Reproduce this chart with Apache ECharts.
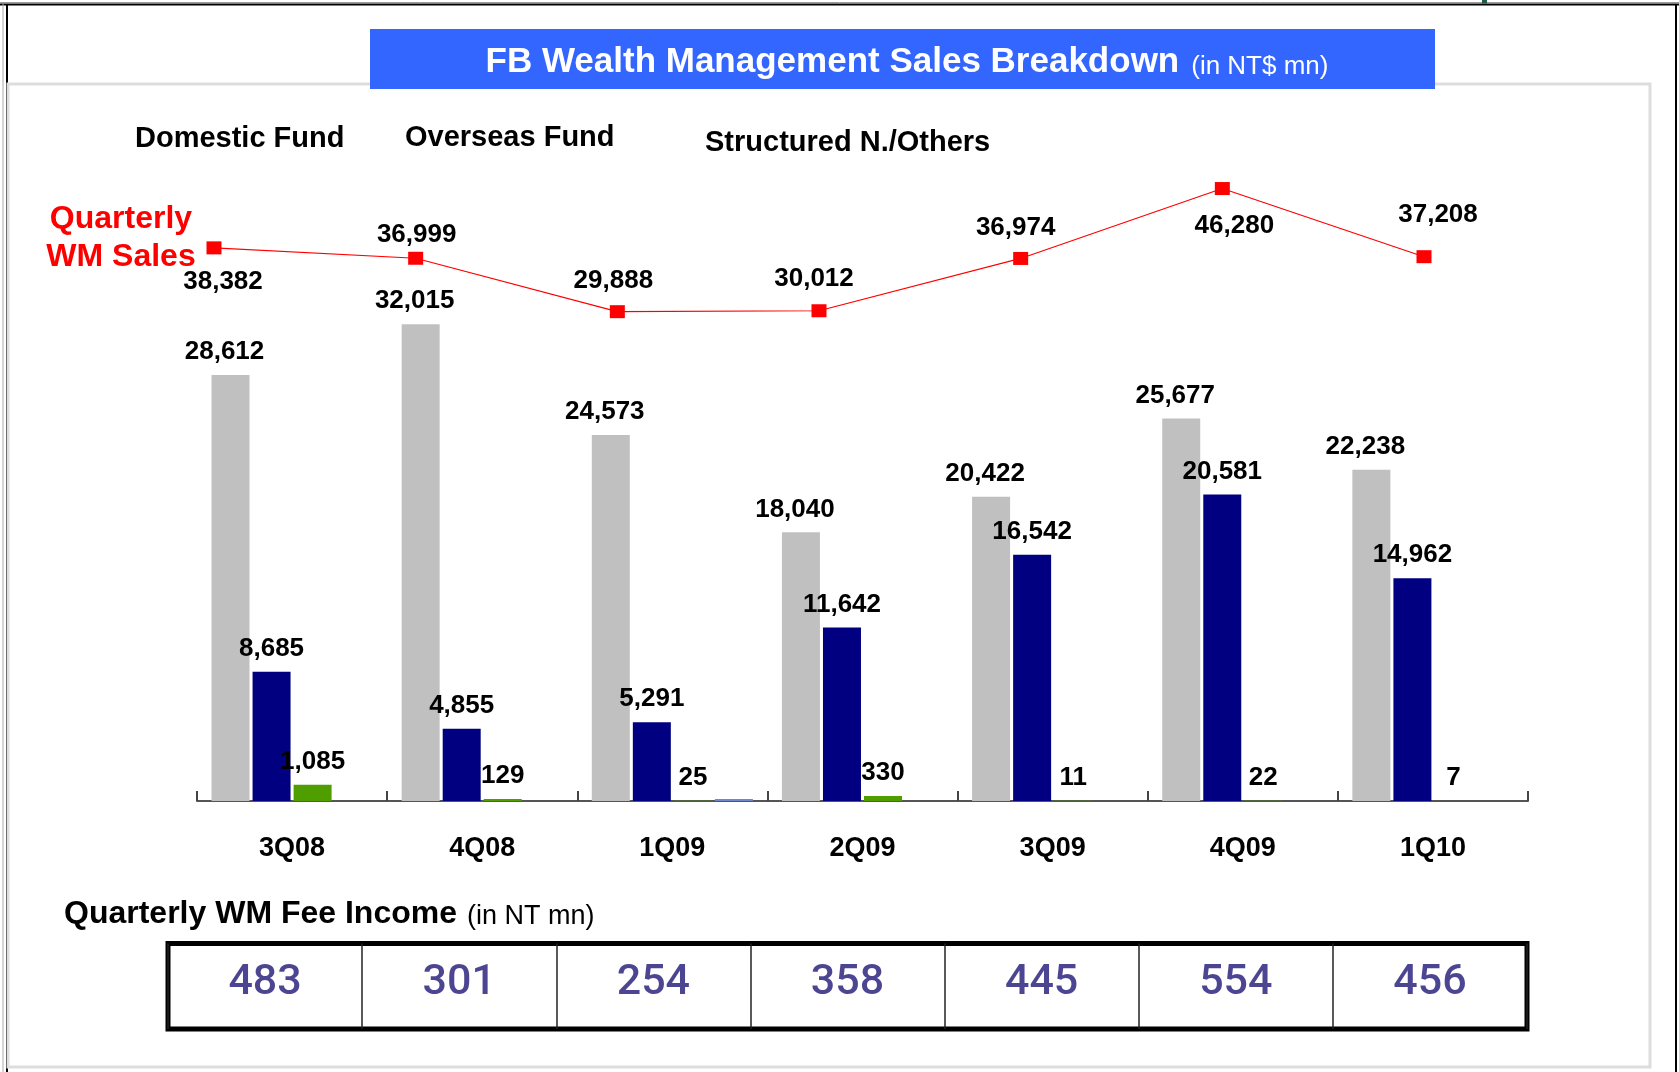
<!doctype html>
<html>
<head>
<meta charset="UTF-8">
<title>FB Wealth Management Sales Breakdown</title>
<script src="https://cdn.jsdelivr.net/npm/echarts@6/dist/echarts.min.js"></script>
<style>
  html, body { margin: 0; padding: 0; background: #fff; }
  #main { width: 1679px; height: 1072px; }
</style>
</head>
<body>
<div id="main"></div>
<script type="text/javascript">
// quarters
var categories = ['3Q08', '4Q08', '1Q09', '2Q09', '3Q09', '4Q09', '1Q10'];
// bar series (NT$ mn)
var domesticFund = [28612, 32015, 24573, 18040, 20422, 25677, 22238];
var overseasFund = [8685, 4855, 5291, 11642, 16542, 20581, 14962];
var structuredOthers = [1085, 129, 25, 330, 11, 22, 7];
// faint unlabeled bar that shows up in the 4th slot of 1Q09
var unlabeledBar = [0, 0, 130, 0, 0, 0, 0];
// line
var wmSales = [38382, 36999, 29888, 30012, 36974, 46280, 37208];
// table row
var feeIncome = [483, 301, 254, 358, 445, 554, 456];
var seriesNames = ['Domestic Fund', 'Overseas Fund', 'Structured N./Others'];

var FONT = '"Liberation Sans", Arial, sans-serif';

// where each line label sits relative to its marker (px)
var lineLabelOffset = [[9, 34], [1, -23], [-4, -31], [-5, -32], [-5, -31], [12, 37], [14, -42]];

function fmt(v) {
    return v.toLocaleString('en-US');
}

var chart = echarts.init(document.getElementById('main'));

function barSeries(name, data, color, withLabel, labelDx) {
    return {
        name: name,
        type: 'bar',
        xAxisIndex: 0,
        yAxisIndex: 0,
        barWidth: 38,
        barGap: '8%',
        data: data,
        itemStyle: { color: color },
        label: withLabel ? {
            show: true,
            position: 'top',
            distance: 10,
            offset: [labelDx || 0, 0],
            color: '#000',
            fontFamily: FONT,
            fontWeight: 'bold',
            fontSize: 26,
            formatter: function (p) { return fmt(p.value); }
        } : { show: false },
        silent: true
    };
}

var lineData = wmSales.map(function (v, i) {
    return {
        value: v,
        label: { offset: lineLabelOffset[i] }
    };
});

var option = {
    animation: false,
    backgroundColor: '#fff',
    grid: [
        { left: 197, right: 151, top: 160.6, bottom: 271 },
        { left: 214, right: 255, top: 160.6, bottom: 271 },
        { left: 168, right: 152, top: 943.5, height: 85.5, show: true, borderColor: '#000', borderWidth: 5 }
    ],
    xAxis: [
        {
            gridIndex: 0,
            type: 'category',
            data: categories,
            axisLine: { lineStyle: { color: '#555', width: 2 } },
            axisTick: { show: true, inside: true, length: 10, lineStyle: { color: '#444', width: 2 } },
            axisLabel: {
                margin: 34,
                color: '#000',
                fontFamily: FONT,
                fontWeight: 'bold',
                fontSize: 27,
                lineHeight: 27
            }
        },
        {
            gridIndex: 1,
            type: 'category',
            data: categories,
            boundaryGap: false,
            show: false
        },
        {
            gridIndex: 2,
            type: 'category',
            data: categories,
            axisLine: { show: false },
            axisTick: { show: false },
            axisLabel: { show: false },
            splitLine: { show: true, lineStyle: { color: '#222', width: 1.5 } }
        }
    ],
    yAxis: [
        { gridIndex: 0, type: 'value', min: 0, max: 43000, show: false },
        { gridIndex: 1, type: 'value', min: -35250, max: 50000, show: false },
        { gridIndex: 2, type: 'value', min: 0, max: 1, show: false }
    ],
    series: [
        barSeries(seriesNames[0], domesticFund, '#C0C0C0', true, -6),
        barSeries(seriesNames[1], overseasFund, '#000080', true, 0),
        barSeries(seriesNames[2], structuredOthers, '#4E9E00', true, 0),
        barSeries('other', unlabeledBar, '#7088D0', false, 0),
        {
            name: 'Quarterly WM Sales',
            type: 'line',
            xAxisIndex: 1,
            yAxisIndex: 1,
            data: lineData,
            symbol: 'rect',
            symbolSize: [15, 13],
            lineStyle: { color: '#FF0000', width: 1.2 },
            itemStyle: { color: '#FF0000' },
            label: {
                show: true,
                position: 'inside',
                color: '#000',
                fontFamily: FONT,
                fontWeight: 'bold',
                fontSize: 26,
                formatter: function (p) { return fmt(p.value); }
            },
            silent: true,
            z: 5
        },
        {
            // fee income row, one cell per quarter
            type: 'scatter',
            xAxisIndex: 2,
            yAxisIndex: 2,
            data: feeIncome.map(function (v, i) { return [i, 0.53]; }),
            symbolSize: 1,
            itemStyle: { color: 'rgba(0,0,0,0)' },
            label: {
                show: true,
                position: 'inside',
                color: '#1F1775',
                fontFamily: 'Roboto, "Liberation Sans", sans-serif',
                fontWeight: 500,
                fontSize: 43,
                formatter: function (p) { return String(feeIncome[p.dataIndex]); }
            },
            silent: true
        }
    ],
    graphic: [
        // page frame
        { type: 'line', shape: { x1: 0, y1: 2.5, x2: 1679, y2: 2.5 }, style: { stroke: '#999', lineWidth: 1 }, silent: true },
        { type: 'line', shape: { x1: 0, y1: 4.5, x2: 1679, y2: 4.5 }, style: { stroke: '#000', lineWidth: 2 }, silent: true },
        { type: 'line', shape: { x1: 3, y1: 4, x2: 3, y2: 1072 }, style: { stroke: '#aaa', lineWidth: 1 }, silent: true },
        { type: 'line', shape: { x1: 7, y1: 4, x2: 7, y2: 1072 }, style: { stroke: '#000', lineWidth: 2 }, silent: true },
        { type: 'line', shape: { x1: 1676, y1: 4, x2: 1676, y2: 1072 }, style: { stroke: '#000', lineWidth: 2 }, silent: true },
        { type: 'rect', shape: { x: 1482, y: 0, width: 5, height: 3.5 }, style: { fill: '#1F5A4A' }, silent: true },
        { type: 'rect', shape: { x: 8, y: 84, width: 1642, height: 983 }, style: { fill: 'none', stroke: '#DDDDDD', lineWidth: 3 }, silent: true },
        // title box
        { type: 'rect', shape: { x: 370, y: 29, width: 1065, height: 60 }, style: { fill: '#3366FF' }, z: 10, silent: true },
        {
            type: 'text', x: 907, y: 62, z: 11, silent: true,
            style: {
                text: '{a|FB Wealth Management Sales Breakdown}{b|(in NT$ mn)}',
                align: 'center',
                verticalAlign: 'middle',
                rich: {
                    a: { fill: '#fff', fontFamily: FONT, fontWeight: 'bold', fontSize: 35, verticalAlign: 'bottom' },
                    b: { fill: '#fff', fontFamily: FONT, fontSize: 26, verticalAlign: 'bottom', padding: [0, 0, 0, 12] }
                }
            }
        },
        // series name labels
        { type: 'text', x: 135, y: 139, silent: true, style: { text: seriesNames[0], fill: '#000', fontFamily: FONT, fontWeight: 'bold', fontSize: 29, verticalAlign: 'middle' } },
        { type: 'text', x: 405, y: 138, silent: true, style: { text: seriesNames[1], fill: '#000', fontFamily: FONT, fontWeight: 'bold', fontSize: 29, verticalAlign: 'middle' } },
        { type: 'text', x: 705, y: 143, silent: true, style: { text: seriesNames[2], fill: '#000', fontFamily: FONT, fontWeight: 'bold', fontSize: 29, verticalAlign: 'middle' } },
        {
            type: 'text', x: 121, y: 238, silent: true,
            style: { text: 'Quarterly\nWM Sales', fill: '#FF0000', fontFamily: FONT, fontWeight: 'bold', fontSize: 32, lineHeight: 38, align: 'center', verticalAlign: 'middle' }
        },
        // fee income caption
        {
            type: 'text', x: 64, y: 914, silent: true,
            style: {
                text: '{a|Quarterly WM Fee Income}{b|(in NT mn)}',
                verticalAlign: 'middle',
                rich: {
                    a: { fill: '#000', fontFamily: FONT, fontWeight: 'bold', fontSize: 32, verticalAlign: 'bottom' },
                    b: { fill: '#000', fontFamily: FONT, fontSize: 27, verticalAlign: 'bottom', padding: [0, 0, 0, 10] }
                }
            }
        }
    ]
};

chart.setOption(option);
</script>
</body>
</html>
